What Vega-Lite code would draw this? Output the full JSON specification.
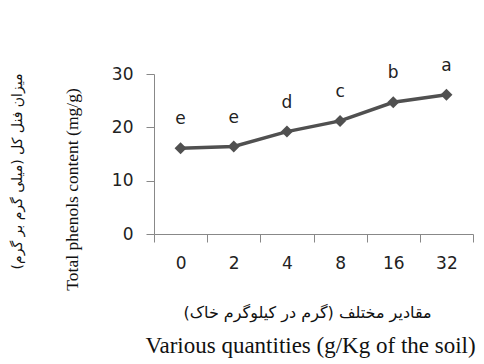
{
  "$schema": "https://vega.github.io/schema/vega-lite/v6.json",
  "width": 319,
  "height": 160,
  "autosize": "none",
  "padding": {"left": 154, "top": 74, "right": 11, "bottom": 130},
  "background": "white",
  "config": {"view": {"stroke": null}, "axis": {"grid": false}},
  "data": {
    "values": [
      {"q": "0", "v": 16.1, "g": "e"},
      {"q": "2", "v": 16.4, "g": "e"},
      {"q": "4", "v": 19.2, "g": "d"},
      {"q": "8", "v": 21.2, "g": "c"},
      {"q": "16", "v": 24.7, "g": "b"},
      {"q": "32", "v": 26.1, "g": "a"}
    ]
  },
  "resolve": {"scale": {"x": "independent", "y": "independent"}},
  "layer": [
    {
      "encoding": {
        "x": {
          "field": "q", "type": "ordinal", "sort": ["0", "2", "4", "8", "16", "32"],
          "scale": {"type": "band", "paddingInner": 0, "paddingOuter": 0},
          "axis": {
            "orient": "bottom", "offset": 0,
            "title": "Various quantities (g/Kg of the soil)",
            "labelAngle": 0, "tickBand": "extent", "tickSize": 8, "labelPadding": 13,
            "labelFont": "DejaVu Sans", "labelFontSize": 17, "labelColor": "#222222",
            "domainColor": "#888888", "tickColor": "#888888",
            "titleFont": "Liberation Serif", "titleFontSize": 23, "titleFontWeight": "normal",
            "titleColor": "#111111", "titleX": 156, "titleY": 111, "titleAlign": "center",
            "titleBaseline": "middle", "titleAngle": 0
          }
        },
        "y": {
          "field": "v", "type": "quantitative",
          "scale": {"domain": [0, 30], "nice": false, "zero": true},
          "axis": {
            "orient": "left", "offset": 0,
            "values": [0, 10, 20, 30],
            "title": "Total phenols content (mg/g)",
            "tickSize": 8, "labelPadding": 13,
            "labelFont": "DejaVu Sans", "labelFontSize": 17, "labelColor": "#222222",
            "domainColor": "#888888", "tickColor": "#888888",
            "titleFont": "Liberation Serif", "titleFontSize": 17.5, "titleFontWeight": "normal",
            "titleColor": "#111111", "titleX": -82, "titleY": 115, "titleAlign": "center",
            "titleBaseline": "middle", "titleAngle": -90
          }
        }
      },
      "layer": [
        {"mark": {"type": "line", "color": "#505050", "strokeWidth": 3.5}},
        {"mark": {"type": "point", "shape": "diamond", "filled": true, "size": 144, "color": "#505050", "opacity": 1}}
      ]
    },
    {
      "mark": {"type": "text", "dy": -29, "font": "DejaVu Sans", "fontSize": 17, "color": "#222222", "baseline": "middle"},
      "encoding": {
        "text": {"field": "g"},
        "x": {
          "field": "q", "type": "ordinal", "sort": ["0", "2", "4", "8", "16", "32"],
          "scale": {"type": "band", "paddingInner": 0, "paddingOuter": 0},
          "axis": {
            "orient": "bottom", "offset": 0,
            "title": "مقادیر مختلف (گرم در کیلوگرم خاک)",
            "labels": false, "ticks": false, "domain": false,
            "titleFont": "DejaVu Sans", "titleFontSize": 16, "titleFontWeight": "normal",
            "titleColor": "#111111", "titleX": 153, "titleY": 78, "titleAlign": "center",
            "titleBaseline": "middle", "titleAngle": 0
          }
        },
        "y": {
          "field": "v", "type": "quantitative",
          "scale": {"domain": [0, 30], "nice": false, "zero": true},
          "axis": {
            "orient": "left", "offset": 0,
            "title": "میزان فنل کل (میلی گرم بر گرم)",
            "labels": false, "ticks": false, "domain": false,
            "titleFont": "DejaVu Sans", "titleFontSize": 14, "titleFontWeight": "normal",
            "titleColor": "#111111", "titleX": -137, "titleY": 97, "titleAlign": "center",
            "titleBaseline": "middle", "titleAngle": -90
          }
        }
      }
    }
  ]
}
